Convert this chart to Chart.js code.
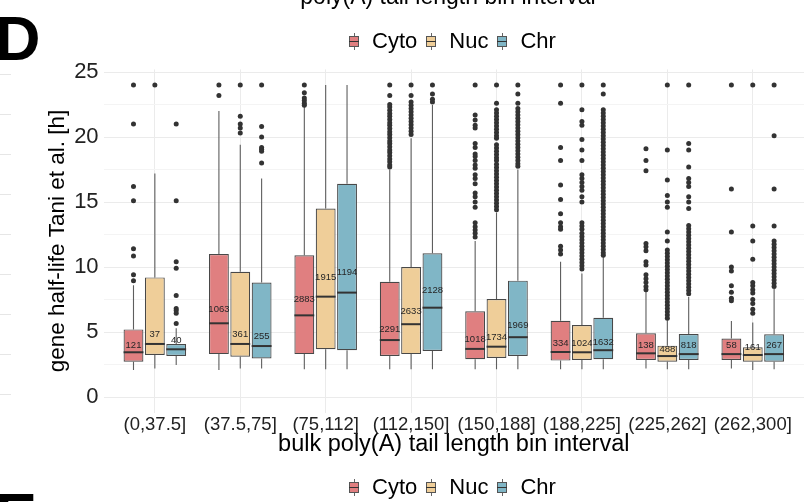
<!DOCTYPE html>
<html>
<head>
<meta charset="utf-8">
<script src="https://cdn.jsdelivr.net/npm/chart.js@4.4.1/dist/chart.umd.min.js"></script>
<style>
  body { margin: 0; background: #fff; }
  #wrap { position: relative; width: 808px; height: 502px; overflow: hidden; font-family: 'Liberation Sans', Arial, sans-serif; color: #000; }
  #chart { position: absolute; left: 0; top: 0; }
  .letter { position: absolute; font-size: 63px; font-weight: bold; line-height: 1; }
  .cut-title { position: absolute; left: 0; width: 896px; text-align: center; font-size: 23px; line-height: 1; }
  .legend { position: absolute; left: 106px; width: 702px; display: flex; justify-content: center; align-items: center; font-size: 22px; line-height: 1; }
  .legend .label { margin-right: 9px; }
  .key { position: relative; width: 10px; height: 17px; margin-right: 13px; }
  .key .whisker { position: absolute; left: 4.5px; top: 0; width: 1px; height: 17px; background: #666; }
  .key .box { position: absolute; left: 0; top: 3px; width: 8px; height: 9px; border: 1px solid #555; }
  .key .mid { position: absolute; left: 0; top: 8px; width: 10px; height: 1.5px; background: #333; }
  .side-grid { position: absolute; left: 0; top: 74px; width: 11px; height: 322px;
    background: repeating-linear-gradient(to bottom, #e6e6e6 0 1px, transparent 1px 40px); }
</style>
</head>
<body>
<div id="wrap">
  <canvas id="chart" width="808" height="502"></canvas>
  <div class="side-grid"></div>
  <div class="cut-title" style="top:-15.5px">poly(A) tail length bin interval</div>
  <div class="letter" style="left:-5px; top:7px">D</div>
  <div class="letter" style="left:-5px; top:484px">E</div>
  <div class="legend" id="legendTop" style="top:30px"></div>
  <div class="legend" id="legendBottom" style="top:476px"></div>
</div>
<script>
const categories = ['(0,37.5]', '(37.5,75]', '(75,112]', '(112,150]', '(150,188]', '(188,225]', '(225,262]', '(262,300]'];
const seriesNames = ['Cyto', 'Nuc', 'Chr'];
const seriesColors = ['#E07F80', '#EFCE99', '#80B6C6'];

// [lower whisker, Q1, median, Q3, upper whisker] per bin
const cytoStats = [
    [2.08, 2.72, 3.44, 5.2, 8.6], [2.08, 3.3, 5.67, 11.0, 22.0], [2.13, 3.3, 6.28, 10.9, 22.3], [2.13, 3.15, 4.38, 8.87, 17.5],
    [2.13, 2.9, 3.7, 6.6, 12.0], [2.13, 2.8, 3.46, 5.87, 10.4], [2.2, 2.85, 3.36, 4.9, 8.1], [2.2, 2.85, 3.3, 4.5, 5.85]
];
const nucStats = [
    [2.2, 3.23, 4.08, 9.2, 17.2], [2.2, 3.1, 4.08, 9.64, 19.4], [2.13, 3.67, 7.72, 14.5, 24], [2.13, 3.3, 5.6, 10.0, 19.9],
    [2.13, 3.0, 3.87, 7.54, 14.2], [2.13, 2.85, 3.44, 5.54, 9.5], [2.13, 2.72, 3.15, 3.95, 5.9], [2.08, 2.72, 3.23, 3.82, 5.74]
];
const chrStats = [
    [2.46, 3.15, 3.67, 4.08, 5.28], [2.2, 2.97, 3.92, 8.8, 16.8], [2.13, 3.6, 8.03, 16.4, 24], [2.13, 3.54, 6.87, 11.05, 22.46],
    [2.13, 3.15, 4.6, 8.95, 17.5], [2.13, 2.9, 3.6, 6.1, 10.8], [2.13, 2.85, 3.3, 4.85, 7.7], [2.13, 2.72, 3.3, 4.82, 8.3]
];

const cytoOutliers = [
    [24, 21, 16.2, 15.1, 11.4, 10.85, 9.4, 8.95],
    [24, 23.2],
    [24, 23.4, 23.0, 22.8, 22.6, 22.45],
    [24, 23.2, 22.5, 22.3, 22.05, 21.8, 21.6, 21.35, 21.1, 20.9, 20.65, 20.4, 20.2, 19.95, 19.7, 19.5, 19.25, 19.0, 18.8, 18.55, 18.3, 18.1, 17.85, 17.7],
    [24, 21.7, 21.3, 20.9, 20.7, 19.5, 19.2, 18.7, 18.5, 18.2, 17.85, 17.6, 17.1, 16.8, 16.4, 15.7, 15.4, 15.0, 14.6, 13.4, 13.1, 12.85, 12.6, 12.3],
    [24, 22.6, 19.2, 18.2, 16.3, 15.2, 14.1, 13.4, 13.1, 12.9, 11.6, 11.3, 11.0],
    [19.1, 18.2, 17.4, 11.8, 11.55, 11.25, 10.4, 10.15, 9.4, 9.1, 8.8, 8.5, 8.25],
    [24, 16.0, 12.7, 10.0, 9.7, 8.55, 8.05, 7.6, 7.4]
];
const nucOutliers = [
    [24],
    [24, 21.6, 21.0, 20.7, 20.3],
    [],
    [24, 23.2, 22.7, 22.45, 22.2, 21.95, 21.7, 21.45, 21.2, 20.95, 20.7, 20.45, 20.2],
    [24, 22.6, 22.1, 21.85, 21.6, 21.35, 21.1, 20.85, 20.6, 20.35, 20.1, 19.9, 19.4, 19.15, 18.9, 18.65, 18.4, 18.2, 17.9, 17.65, 17.4, 17.15,
     16.9, 16.65, 16.4, 16.15, 15.9, 15.65, 15.4, 15.15, 14.9, 14.65, 14.4],
    [24, 22.1, 21.2, 20.9, 19.8, 19.0, 18.2, 17.1, 16.8, 16.5, 16.2, 15.9, 15.4, 15.0, 13.4, 13.15, 12.9, 12.6, 12.35, 12.1, 11.85, 11.6,
     11.35, 11.1, 10.85, 10.6, 10.35, 10.1, 9.85],
    [24, 19.0, 16.7, 15.5, 15.0, 14.6, 12.7, 12.0, 11.3, 11.05, 10.8, 10.55, 10.3, 10.05, 9.8, 9.55, 9.3, 9.05, 8.8, 8.55, 8.3, 8.05, 7.8,
     7.55, 7.3, 7.05, 6.8, 6.55, 6.3, 6.05],
    [24, 13.15, 12.0, 10.6, 8.8, 8.55, 8.25, 8.0, 7.5, 7.2, 6.75, 6.45]
];
const chrOutliers = [
    [21.0, 15.1, 10.4, 9.9, 7.8, 6.8, 6.65, 6.45, 5.65],
    [24, 20.8, 20.0, 19.2, 19.05, 18.9, 18.0],
    [],
    [24, 23.3, 22.9, 22.7],
    [24, 23.3, 22.6, 22.2, 21.95, 21.7, 21.45, 21.2, 20.95, 20.7, 20.45, 20.2, 19.95, 19.7, 19.45, 19.2, 18.95, 18.7, 18.45, 18.2, 17.95, 17.75],
    [24, 23.3, 22.1, 21.85, 21.6, 21.35, 21.1, 20.85, 20.6, 20.35, 20.1, 19.85, 19.6, 19.35, 19.1, 18.85, 18.6, 18.35, 18.1, 17.85, 17.6,
     17.35, 17.1, 16.85, 16.6, 16.35, 16.1, 15.85, 15.6, 15.35, 15.1, 14.85, 14.6, 14.35, 14.1, 13.85, 13.6, 13.35, 13.1, 12.85, 12.6,
     12.35, 12.1, 11.85, 11.6, 11.35, 11.1, 10.9],
    [24, 19.5, 19.0, 17.7, 16.8, 16.5, 16.2, 15.4, 15.0, 14.5, 13.2, 12.95, 12.7, 12.45, 12.2, 11.95, 11.7, 11.45, 11.2, 10.95, 10.7,
     10.45, 10.2, 9.95, 9.7, 9.45, 9.2, 8.95, 8.7, 8.45, 8.2, 7.95],
    [24, 20.1, 16.0, 13.15, 12.0, 11.75, 11.5, 11.25, 11.0, 10.75, 10.5, 10.25, 10.0, 9.75, 9.5, 9.25, 9.0, 8.75, 8.5]
];

// gene counts, printed at the mean of each box
const cytoN = [121, 1063, 2883, 2291, 1018, 334, 138, 58];
const nucN = [37, 361, 1915, 2633, 1734, 1024, 488, 161];
const chrN = [40, 255, 1194, 2128, 1969, 1632, 818, 267];
const cytoMean = [4.0, 6.74, 7.5, 5.2, 4.4, 4.1, 3.95, 3.95];
const nucMean = [4.85, 4.85, 9.2, 6.6, 4.6, 4.1, 3.67, 3.82];
const chrMean = [4.33, 4.69, 9.6, 8.2, 5.5, 4.2, 3.95, 3.95];

const yTicks = { min: -1.2, max: 25.2, step: 2.5 };

const series = [
    { name: seriesNames[0], color: seriesColors[0], stats: cytoStats, outliers: cytoOutliers, n: cytoN, mean: cytoMean },
    { name: seriesNames[1], color: seriesColors[1], stats: nucStats, outliers: nucOutliers, n: nucN, mean: nucMean },
    { name: seriesNames[2], color: seriesColors[2], stats: chrStats, outliers: chrOutliers, n: chrN, mean: chrMean }
];
const dodge = 0.25;

// Legends (top one for this panel, bottom one belongs to the next panel)
function buildLegend(id) {
    document.getElementById(id).innerHTML = series.map(s => `
        <span class="key"><span class="whisker"></span><span class="box" style="background:${s.color}"></span><span class="mid"></span></span>
        <span class="label">${s.name}</span>`).join('');
}
buildLegend('legendTop');
buildLegend('legendBottom');

// whiskers behind the boxes, medians and counts on top
const boxExtras = {
    id: 'boxExtras',
    beforeDatasetsDraw(chart) {
        const { ctx } = chart;
        const y = chart.scales.y;
        ctx.save();
        ctx.strokeStyle = '#5e5e5e';
        ctx.lineWidth = 1.1;
        series.forEach((s, k) => {
            chart.getDatasetMeta(k).data.forEach((bar, i) => {
                const [lo, q1, , q3, hi] = s.stats[i];
                ctx.beginPath();
                ctx.moveTo(bar.x, y.getPixelForValue(hi));
                ctx.lineTo(bar.x, y.getPixelForValue(q3));
                ctx.moveTo(bar.x, y.getPixelForValue(q1));
                ctx.lineTo(bar.x, y.getPixelForValue(lo));
                ctx.stroke();
            });
        });
        ctx.restore();
    },
    afterDatasetsDraw(chart) {
        const { ctx } = chart;
        const y = chart.scales.y;
        ctx.save();
        series.forEach((s, k) => {
            chart.getDatasetMeta(k).data.forEach((bar, i) => {
                const my = y.getPixelForValue(s.stats[i][2]);
                ctx.strokeStyle = '#333';
                ctx.lineWidth = 2;
                ctx.beginPath();
                ctx.moveTo(bar.x - bar.width / 2, my);
                ctx.lineTo(bar.x + bar.width / 2, my);
                ctx.stroke();
            });
        });
        ctx.font = '9.5px "Liberation Sans", Arial, sans-serif';
        ctx.fillStyle = '#262626';
        ctx.textAlign = 'center';
        ctx.textBaseline = 'middle';
        series.forEach((s, k) => {
            chart.getDatasetMeta(k).data.forEach((bar, i) => {
                ctx.fillText(String(s.n[i]), bar.x, y.getPixelForValue(s.mean[i]));
            });
        });
        ctx.restore();
    }
};

const boxSets = series.map(s => ({
    type: 'bar',
    label: s.name,
    data: s.stats.map((st, i) => ({ x: i + 1, y: [st[1], st[3]] })),
    backgroundColor: s.color,
    borderColor: '#484848',
    borderWidth: 1.2,
    borderSkipped: false,
    categoryPercentage: 0.75,
    barPercentage: 0.93
}));

const outlierSets = series.map((s, k) => ({
    type: 'scatter',
    label: s.name + ' outliers',
    data: s.outliers.flatMap((vals, i) => vals.map(v => ({ x: i + 1 + (k - 1) * dodge, y: v }))),
    pointRadius: 2.5,
    pointBackgroundColor: '#333',
    pointBorderWidth: 0
}));

Chart.defaults.font.family = "'Liberation Sans', Arial, sans-serif";

new Chart(document.getElementById('chart'), {
    type: 'bar',
    data: { datasets: [...boxSets, ...outlierSets] },
    options: {
        responsive: false,
        animation: false,
        devicePixelRatio: 1,
        layout: { padding: { left: 0, right: 1.6, top: 69.4, bottom: 43.4 } },
        plugins: { legend: { display: false }, tooltip: { enabled: false } },
        scales: {
            x: {
                type: 'linear',
                offset: false,
                min: 0.4,
                max: 8.6,
                afterFit: scale => { scale.height = 46; },
                ticks: {
                    stepSize: 1,
                    includeBounds: false,
                    autoSkip: false,
                    maxRotation: 0,
                    minRotation: 0,
                    padding: 1,
                    color: '#222',
                    font: { size: 18.5 },
                    callback: v => categories[v - 1]
                },
                grid: { color: '#ebebeb', drawTicks: false, offset: false },
                border: { display: false },
                title: { display: true, text: 'bulk poly(A) tail length bin interval', color: '#000', font: { size: 23.5 }, padding: { top: 0, bottom: 0 } }
            },
            y: {
                min: yTicks.min,
                max: yTicks.max,
                afterFit: scale => { scale.width = 103.6; },
                ticks: {
                    stepSize: yTicks.step,
                    includeBounds: false,
                    autoSkip: false,
                    padding: 5,
                    color: '#222',
                    font: { size: 22 },
                    callback: v => (v % 5 === 0 ? v : '')
                },
                grid: {
                    drawTicks: false,
                    color: c => (c.tick && c.tick.value % 5 === 0 ? '#ebebeb' : '#f4f4f4')
                },
                border: { display: false },
                title: { display: true, text: 'gene half-life Tani et al. [h]', color: '#000', font: { size: 22.5 }, padding: { top: 44, bottom: 0 } }
            }
        }
    },
    plugins: [boxExtras]
});
</script>
</body>
</html>
